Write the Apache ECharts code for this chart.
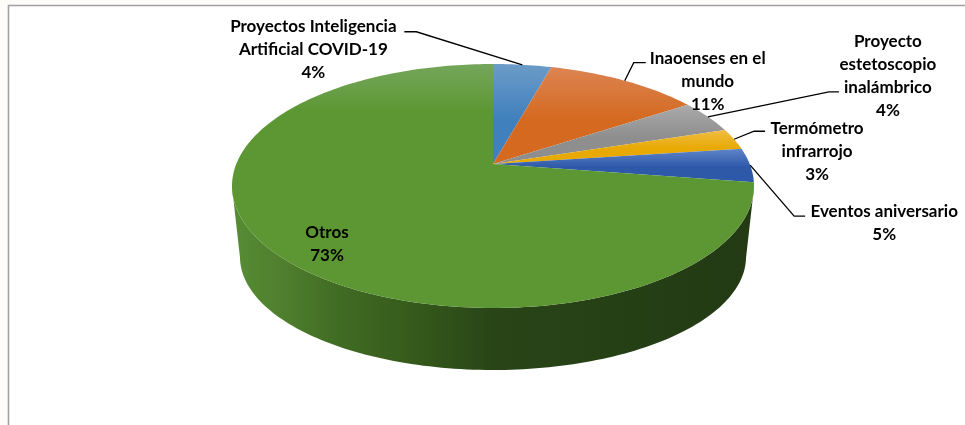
<!DOCTYPE html>
<html><head><meta charset="utf-8">
<style>html,body{margin:0;padding:0;background:#fff}#c{width:965px;height:425px}</style>
<script src="https://cdn.jsdelivr.net/npm/echarts@6/dist/echarts.min.js"></script>
</head><body><div id="c"></div>
<script>
const categories = ['Proyectos Inteligencia\nArtificial COVID-19','Inaoenses en el\nmundo','Proyecto\nestetoscopio\ninalámbrico','Termómetro\ninfrarrojo','Eventos aniversario','Otros'];
const values = [4.3, 11.4, 4.4, 2.8, 4.5, 72.6];
const sliceColors = ['#4080bd','#d4691f','#8e8e8e','#e8a902','#2e59a9','#5c9733'];
const sliceLights = ['#6c9cc8','#dc8452','#aaaaaa','#efbc44','#5f85c8','#74a65a'];

// Projection of the pie disc
const upper = {cx:493, cy:186, rx:261, ry:122, b:0.18};
const lowerRim = {cx:493, cy:257, rx:253, ry:113};
const total = values.reduce((a,b)=>a+b,0);
const cum = []; values.reduce((a,v,i)=>(cum[i]=a, a+v),0);

function project(u,v){
  const d = 1 + upper.b*v, s = Math.sqrt(1-upper.b*upper.b);
  return [upper.cx + upper.rx*u*s/d, upper.cy - upper.ry*(v+upper.b)/d];
}
function rim(pos){ // pos = running share of the total, clockwise from 12 o'clock
  const t = pos/total*2*Math.PI;
  return project(Math.sin(t), Math.cos(t));
}
function rimPts(a,b){
  const n = Math.max(2, Math.ceil((b-a)*3)), pts=[];
  for(let i=0;i<=n;i++) pts.push(rim(a+(b-a)*i/n));
  return pts;
}
function lower(p){ // same ellipse angle on the lower rim
  const phi = Math.atan2((p[1]-upper.cy)/upper.ry,(p[0]-upper.cx)/upper.rx);
  return [lowerRim.cx+lowerRim.rx*Math.cos(phi), lowerRim.cy+lowerRim.ry*Math.sin(phi)];
}
const labelFont = 'bold 17px Lato, Carlito, sans-serif';
// Leader offsets from each slice's rim midpoint: elbow, end; then label centre (offset)
const leaders = [
  {elbow:[-106,-33], end:[-118,-33], text:[-209,-15]},
  {elbow:[9,-18], end:[21,-18], text:[83,1]},
  {elbow:[121,-25], end:[131,-25], text:[180,-40.5]},
  {elbow:[20,-8], end:[31,-8], text:[83,12]},
  {elbow:[44,51], end:[55,51], text:[134,58]},
  null
];
const inner = [-166, 79.5];
function pct(i){ return Math.round(values[i]/total*100)+'%'; }

const wallGradient = new echarts.graphic.LinearGradient(232,0,754,0,[
  {offset:0,color:'#578c34'},{offset:0.1,color:'#4f7f2e'},{offset:0.2,color:'#416c24'},
  {offset:0.33,color:'#375c1c'},{offset:0.5,color:'#284517'},{offset:1,color:'#233a14'}],true);

function renderWall(params, api){
  const i = params.dataIndex, a = cum[i], b = a+values[i];
  const pts = rimPts(a,b).filter(p=>p[1]>=upper.cy);
  if(pts.length<2) return {type:'group',children:[]};
  const poly = pts.concat(pts.map(lower).reverse());
  return {type:'polygon', shape:{points:poly}, style:{fill:wallGradient}, silent:true};
}
function renderTop(params, api){
  const i = params.dataIndex, a = cum[i], b = a+values[i];
  const apex = project(0,0), pts = [apex].concat(rimPts(a,b));
  const light = i===5 ? 0.2 : 0.55;
  return {type:'polygon', shape:{points:pts}, style:{
    fill:new echarts.graphic.LinearGradient(0,0,0,1,[
      {offset:0,color:sliceLights[i]},{offset:light,color:sliceColors[i]},{offset:1,color:sliceColors[i]}])},
    silent:true};
}
function renderLabels(params, api){
  const i = params.dataIndex, mid = rim(cum[i]+values[i]/2), L = leaders[i], kids=[];
  let tx, ty;
  if(L){
    const e=[mid[0]+L.elbow[0],mid[1]+L.elbow[1]], f=[mid[0]+L.end[0],mid[1]+L.end[1]];
    kids.push({type:'polyline',shape:{points:[mid,e,f]},style:{stroke:'#000',lineWidth:1.3,fill:null}});
    tx=mid[0]+L.text[0]; ty=mid[1]+L.text[1];
  } else { const c=project(0,0); tx=c[0]+inner[0]; ty=c[1]+inner[1]; }
  kids.push({type:'text',style:{text:categories[i]+'\n'+pct(i),x:tx,y:ty,align:'center',verticalAlign:'middle',
    font:labelFont,lineHeight:23,fill:'#000'}});
  return {type:'group',children:kids,silent:true};
}
const rows = values.map((v,i)=>[i,v]);
const chart = echarts.init(document.getElementById('c'),null,{renderer:'canvas'});
chart.setOption({
  animation:false,
  backgroundColor:'#ffffff',
  graphic:[
    {type:'rect',z:-1,shape:{x:0,y:0,width:965,height:5},style:{fill:'#fdfcf8'},silent:true},
    {type:'rect',z:-1,shape:{x:0,y:0,width:8,height:425},style:{fill:'#fdfcf8'},silent:true},
    {type:'polyline',z:-1,shape:{points:[[8.5,425],[8.5,5.5],[965,5.5]]},style:{stroke:'#a0a0a0',lineWidth:1.6,fill:null},silent:true}
  ],
  series:[
    {type:'custom',coordinateSystem:'none',renderItem:renderWall,data:rows,z:2},
    {type:'custom',coordinateSystem:'none',renderItem:renderTop,data:rows,z:3},
    {type:'custom',coordinateSystem:'none',renderItem:renderLabels,data:rows,z:4}
  ]
});
</script></body></html>
